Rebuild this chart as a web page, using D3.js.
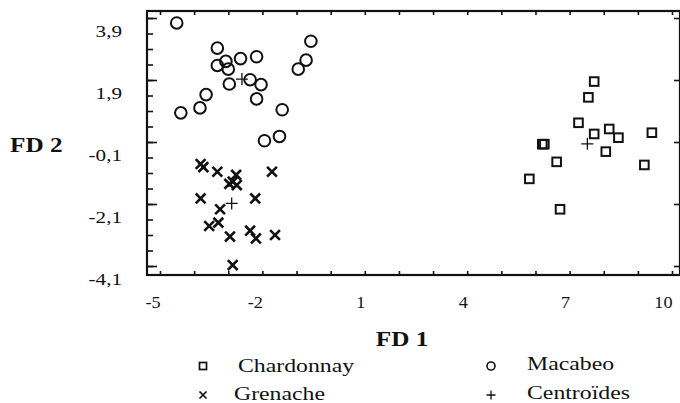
<!DOCTYPE html>
<html>
<head>
<meta charset="utf-8">
<script src="https://cdn.jsdelivr.net/npm/d3@7"></script>
<style>
  body { margin: 0; background: #fff; }
  svg { display: block; }
  svg text { font-family: "Liberation Serif", "Times New Roman", "DejaVu Serif", serif; }
</style>
</head>
<body>
<svg id="chart" width="680" height="403"></svg>
<script>
// Discriminant analysis scores (FD 1, FD 2)
const chardonnay = [[7.72,1.85],[7.55,1.34],[7.26,0.52],[7.72,0.16],[8.16,0.32],[8.43,0.04],
  [8.06,-0.41],[9.41,0.20],[9.19,-0.84],[6.20,-0.17],[6.26,-0.17],[6.62,-0.74],[5.82,-1.29],[6.72,-2.27]];
const grenache = [[-3.81,-0.81],[-3.73,-0.91],[-3.32,-1.06],[-2.77,-1.16],[-2.87,-1.38],[-2.75,-1.49],
  [-2.97,-1.45],[-1.72,-1.06],[-3.81,-1.92],[-3.24,-2.27],[-2.21,-1.92],[-3.56,-2.81],[-3.29,-2.70],
  [-2.95,-3.15],[-2.36,-2.96],[-2.19,-3.21],[-1.63,-3.10],[-2.87,-4.07]];
const macabeo = [[-4.51,3.74],[-3.32,2.93],[-3.32,2.37],[-3.07,2.50],[-3.00,2.25],[-2.64,2.59],
  [-2.17,2.65],[-2.97,1.77],[-2.36,1.91],[-2.04,1.75],[-2.17,1.29],[-3.65,1.43],[-3.83,1.00],
  [-4.39,0.84],[-1.42,0.94],[-1.94,-0.06],[-1.50,0.08],[-0.95,2.25],[-0.72,2.54],[-0.58,3.15]];
const centroids = [[7.52,-0.16],[-2.90,-2.08],[-2.60,1.93]];

const xTicks = d3.range(-5, 11, 1);
const xLabels = [-5, -2, 1, 4, 7, 10];
const yMinor = d3.range(3.9, -4.2, -0.5);
const yLabels = [3.9, 1.9, -0.1, -2.1, -4.1];
const legendLabels = ["Chardonnay", "Grenache", "Macabeo", "Centroïdes"];

const svg = d3.select("#chart");
const frame = {left: 147, right: 680, top: 11, bottom: 275};
const ink = "#111";

const x = d3.scaleLinear().domain([-5.381, 10.234]).range([frame.left, frame.right]);
const y = d3.scaleLinear().domain([-4.39, 4.126]).range([frame.bottom, frame.top]);

const fmt = d => d3.format(".1f")(d).replace(".", ",").replace("−", "-");

// the figure's text is horizontally stretched
function stretch(sel, k) {
  sel.each(function() {
    const w = this.getComputedTextLength();
    d3.select(this).attr("textLength", w * k).attr("lengthAdjust", "spacingAndGlyphs");
  });
}

///// Axes (all ticks point inward) /////
const gBottom = svg.append("g")
    .attr("transform", "translate(0," + frame.bottom + ")")
    .call(d3.axisBottom(x).tickValues(xTicks).tickSizeInner(-4).tickSizeOuter(0)
      .tickFormat(d => xLabels.includes(d) ? String(d) : ""));
gBottom.attr("font-family", null);
gBottom.selectAll("text")
    .attr("y", 33).attr("dy", null)
    .attr("text-anchor", "end")
    .style("font-size", "16.5px").attr("fill", ink);
stretch(gBottom.selectAll("text"), 1.1);

svg.append("g")
    .attr("transform", "translate(0," + frame.top + ")")
    .call(d3.axisTop(x).tickValues(xTicks).tickSizeInner(-4).tickSizeOuter(0).tickFormat(""));

svg.append("g")
    .attr("transform", "translate(" + frame.left + ",0)")
    .call(d3.axisLeft(y).tickValues(yMinor).tickSizeInner(-6).tickSizeOuter(0).tickFormat(""));

const gLeft = svg.append("g")
    .attr("transform", "translate(" + frame.left + ",0)")
    .call(d3.axisLeft(y).tickValues(yLabels).tickSizeInner(-10).tickSizeOuter(0)
      .tickPadding(25).tickFormat(fmt));
gLeft.attr("font-family", null);
gLeft.selectAll("text")
    .attr("dy", null).attr("y", 18)
    .style("font-size", "16.5px").attr("fill", ink);
stretch(gLeft.selectAll("text"), 1.28);

svg.append("g")
    .attr("transform", "translate(" + frame.right + ",0)")
    .call(d3.axisLeft(y).tickValues(yLabels).tickSizeInner(6).tickSizeOuter(0).tickFormat(""));

svg.selectAll(".domain").remove();
svg.selectAll(".tick line").attr("stroke", ink).attr("stroke-width", 1.6);

// frame
svg.append("rect")
    .attr("x", frame.left).attr("y", frame.top)
    .attr("width", frame.right - frame.left).attr("height", frame.bottom - frame.top)
    .attr("fill", "none").attr("stroke", ink).attr("stroke-width", 2.2);

///// Axis titles /////
const t1 = svg.append("text").attr("x", 402).attr("y", 346)
    .attr("text-anchor", "middle").style("font-size", "21px").style("font-weight", "bold")
    .attr("fill", ink).text("FD 1");
stretch(t1, 1.2);
const t2 = svg.append("text").attr("x", 10).attr("y", 152)
    .style("font-size", "21px").style("font-weight", "bold")
    .attr("fill", ink).text("FD 2");
stretch(t2, 1.2);

///// Markers /////
const crossPath = s => `M${-s},${-s}L${s},${s}M${-s},${s}L${s},${-s}`;
const plusPath = s => `M${-s},0L${s},0M0,${-s}L0,${s}`;

svg.append("g").selectAll("circle")
  .data(macabeo).enter().append("circle")
    .attr("cx", d => x(d[0])).attr("cy", d => y(d[1])).attr("r", 5.8)
    .attr("fill", "none").attr("stroke", ink).attr("stroke-width", 2);

svg.append("g").selectAll("rect")
  .data(chardonnay).enter().append("rect")
    .attr("x", d => x(d[0]) - 4.3).attr("y", d => y(d[1]) - 4.3)
    .attr("width", 8.6).attr("height", 8.6)
    .attr("fill", "none").attr("stroke", ink).attr("stroke-width", 2);

svg.append("g").selectAll("path")
  .data(grenache).enter().append("path")
    .attr("transform", d => "translate(" + x(d[0]) + "," + y(d[1]) + ")")
    .attr("d", crossPath(4.9))
    .attr("fill", "none").attr("stroke", ink).attr("stroke-width", 2.6);

svg.append("g").selectAll("path")
  .data(centroids).enter().append("path")
    .attr("transform", d => "translate(" + x(d[0]) + "," + y(d[1]) + ")")
    .attr("d", plusPath(6))
    .attr("fill", "none").attr("stroke", ink).attr("stroke-width", 1.3);

///// Legend /////
const legend = svg.append("g").attr("fill", ink);
const items = [
  {label: legendLabels[0], sx: 203, tx: 238, y: 366},
  {label: legendLabels[1], sx: 203, tx: 234, y: 394},
  {label: legendLabels[2], sx: 491, tx: 527, y: 364},
  {label: legendLabels[3], sx: 491, tx: 527, y: 393}
];
legend.append("rect").attr("x", items[0].sx - 3.5).attr("y", items[0].y - 3.5)
    .attr("width", 7).attr("height", 7).attr("fill", "none").attr("stroke", ink).attr("stroke-width", 1.7);
legend.append("path").attr("transform", "translate(" + items[1].sx + "," + (items[1].y + 1) + ")")
    .attr("d", crossPath(3.5)).attr("fill", "none").attr("stroke", ink).attr("stroke-width", 1.7);
legend.append("circle").attr("cx", items[2].sx).attr("cy", items[2].y + 2).attr("r", 4)
    .attr("fill", "none").attr("stroke", ink).attr("stroke-width", 1.6);
legend.append("path").attr("transform", "translate(" + items[3].sx + "," + (items[3].y + 2) + ")")
    .attr("d", plusPath(4.5)).attr("fill", "none").attr("stroke", ink).attr("stroke-width", 1.3);

const legTexts = legend.selectAll("text").data(items).enter().append("text")
    .attr("x", d => d.tx).attr("y", d => d.y + 6)
    .style("font-size", "18px")
    .text(d => d.label);
stretch(legTexts, 1.32);
</script>
</body>
</html>
